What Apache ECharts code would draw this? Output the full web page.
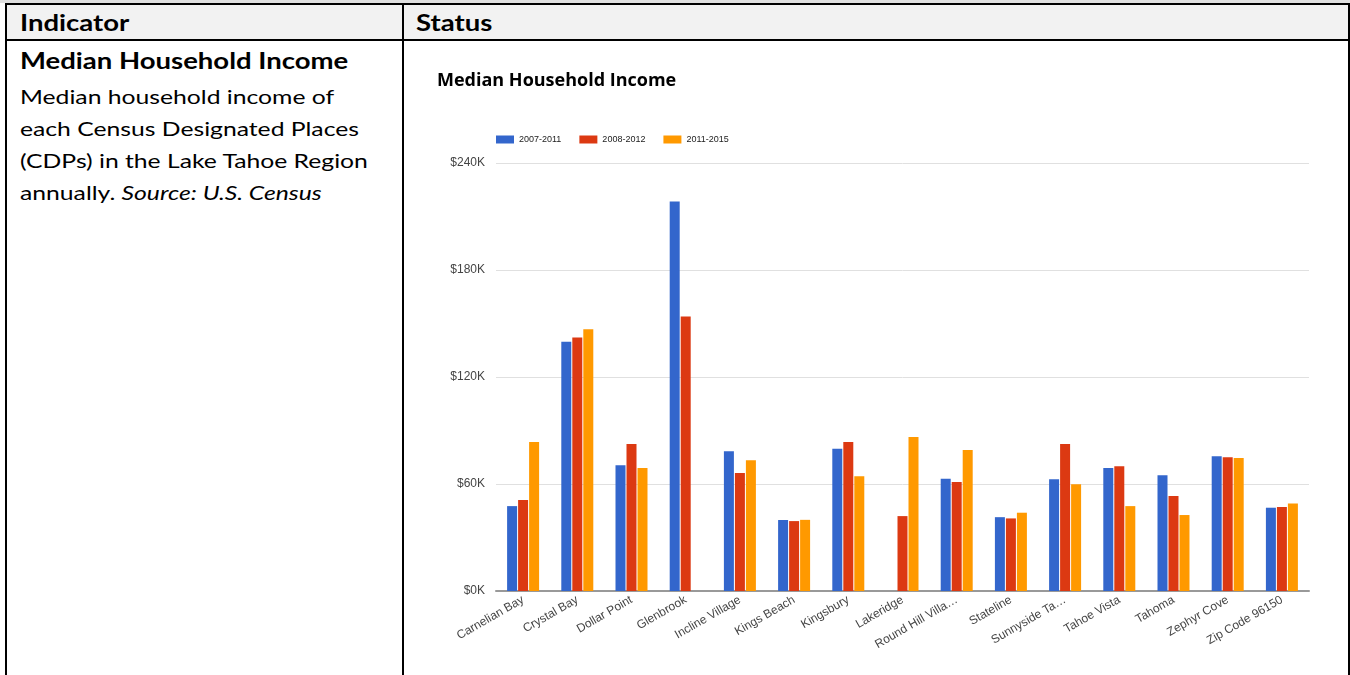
<!DOCTYPE html>
<html>
<head>
<meta charset="utf-8">
<title>Median Household Income</title>
<script src="https://cdn.jsdelivr.net/npm/echarts@6/dist/echarts.min.js"></script>
<style>
  html, body { margin: 0; padding: 0; background: #fff; }
  body { position: relative; width: 1350px; height: 675px; overflow: hidden; font-family: Lato, "Open Sans", sans-serif; color: #000; }
  .strip { position: absolute; left: 0; top: 0; width: 1350px; height: 3px; background: #e0e0e0; }
  .head { position: absolute; left: 5px; top: 3px; width: 1345px; height: 37px; background: #f2f2f2; }
  .rule { position: absolute; background: #000; }
  .wide { transform-origin: 0 50%; white-space: nowrap; }
  .hcell { position: absolute; top: 6px; height: 34px; line-height: 34px; font-weight: 700; font-size: 22px; transform: scaleX(1.25); }
  .ind-title { position: absolute; left: 20px; top: 44px; line-height: 34px; font-weight: 700; font-size: 22px; transform: scaleX(1.25); }
  .ind-body { position: absolute; left: 20px; top: 79.5px; font-size: 20px; line-height: 32.3px; transform: scaleX(1.235); }
  #chart { position: absolute; left: 0; top: 0; width: 1350px; height: 675px; }
</style>
</head>
<body>
<div class="strip"></div>
<div class="head"></div>
<div class="rule" style="left:5px;top:3px;width:1345px;height:2px"></div>
<div class="rule" style="left:5px;top:39px;width:1345px;height:2px"></div>
<div class="rule" style="left:5px;top:3px;width:2px;height:672px"></div>
<div class="rule" style="left:402px;top:3px;width:2px;height:672px"></div>
<div class="rule" style="left:1348px;top:3px;width:2px;height:672px"></div>
<div class="hcell wide" style="left:20px">Indicator</div>
<div class="hcell wide" style="left:416px">Status</div>
<div class="ind-title wide">Median Household Income</div>
<div class="ind-body wide">Median household income of<br>each Census Designated Places<br>(CDPs) in the Lake Tahoe Region<br>annually. <i>Source: U.S. Census</i></div>
<div id="chart"></div>
<script>
// Census Designated Places around Lake Tahoe
const places = [
  'Carnelian Bay', 'Crystal Bay', 'Dollar Point', 'Glenbrook', 'Incline Village',
  'Kings Beach', 'Kingsbury', 'Lakeridge', 'Round Hill Village', 'Stateline',
  'Sunnyside Tahoe City', 'Tahoe Vista', 'Tahoma', 'Zephyr Cove', 'Zip Code 96150'
];
// Axis labels as printed (long names shortened)
const placeLabels = [
  'Carnelian Bay', 'Crystal Bay', 'Dollar Point', 'Glenbrook', 'Incline Village',
  'Kings Beach', 'Kingsbury', 'Lakeridge', 'Round Hill Villa\u2026', 'Stateline',
  'Sunnyside Ta\u2026', 'Tahoe Vista', 'Tahoma', 'Zephyr Cove', 'Zip Code 96150'
];

// Median household income, US dollars, per ACS 5-year period
const periods = ['2007-2011', '2008-2012', '2011-2015'];
const income2007_2011 = [47600, 139700, 70500, 218400, 78400, 39800, 79700, 0, 63000, 41400, 62600, 69000, 64900, 75600, 46700];
const income2008_2012 = [51000, 142100, 82500, 153900, 66200, 39200, 83600, 42000, 61100, 40700, 82500, 70000, 53300, 75000, 47100];
const income2011_2015 = [83500, 146800, 69000, 0, 73300, 39900, 64300, 86300, 79100, 43900, 59800, 47600, 42600, 74600, 49100];

// Y axis ticks
const yTicks = [0, 60000, 120000, 180000, 240000];

const colors = ['#3366cc', '#dc3912', '#ff9900'];
const seriesValues = [income2007_2011, income2008_2012, income2011_2015];

const chart = echarts.init(document.getElementById('chart'), null, { renderer: 'canvas' });
chart.setOption({
  animation: false,
  color: colors,
  title: {
    text: 'Median Household Income',
    left: 437,
    top: 72,
    padding: 0,
    textStyle: { fontFamily: 'Open Sans', fontWeight: 700, fontSize: 18, color: '#000' }
  },
  legend: {
    left: 496,
    top: 135,
    padding: 0,
    itemWidth: 18,
    itemHeight: 8,
    itemGap: 18,
    icon: 'rect',
    textStyle: { fontFamily: 'Liberation Sans, Arial', fontSize: 9, color: '#222' },
    data: periods
  },
  grid: { left: 496, right: 41, top: 163, bottom: 84, containLabel: false },
  xAxis: {
    type: 'category',
    data: places,
    axisTick: { show: false },
    axisLine: { show: true, lineStyle: { color: '#999', width: 2 } },
    axisLabel: {
      rotate: 30,
      interval: 0,
      margin: 8,
      fontFamily: 'Liberation Sans, Arial',
      fontSize: 12,
      color: '#444',
      formatter: (v, i) => placeLabels[i]
    }
  },
  yAxis: {
    type: 'value',
    min: yTicks[0],
    max: yTicks[yTicks.length - 1],
    interval: yTicks[1] - yTicks[0],
    axisLine: { show: false },
    axisTick: { show: false },
    splitLine: { lineStyle: { color: '#e0e0e0', width: 1 } },
    axisLabel: {
      margin: 11,
      fontFamily: 'Liberation Sans, Arial',
      fontSize: 12,
      color: '#444',
      formatter: v => '$' + (v / 1000) + 'K'
    }
  },
  series: periods.map((p, i) => ({
    name: p,
    type: 'bar',
    data: seriesValues[i],
    barWidth: 10,
    barGap: '10%',
    itemStyle: { color: colors[i] }
  }))
});
</script>
</body>
</html>
